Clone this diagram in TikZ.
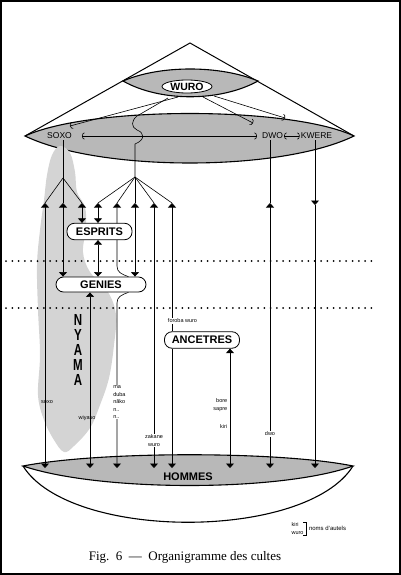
\documentclass[tikz,border=0pt]{standalone}
\usepackage{fontspec}
\setmainfont{Liberation Serif}
\setsansfont{Liberation Sans}
\usepackage{graphicx}
\usetikzlibrary{arrows.meta,positioning,shapes.geometric,calc,backgrounds}
\definecolor{lensgrey}{RGB}{184,184,184}
\definecolor{cloudgrey}{RGB}{212,212,212}

\begin{document}
\begin{tikzpicture}[x=1pt, y=-1pt,
    >={Triangle[width=8pt, length=4.5pt]},
    cult/.style={rectangle, draw, thick, fill=white, rounded corners=7.5pt,
        minimum height=16.5pt, inner sep=2pt,
        font=\sffamily\bfseries\fontsize{11}{11}\selectfont},
    power/.style={font=\sffamily\fontsize{8.5}{9}\selectfont, inner sep=1pt},
    altar/.style={font=\sffamily\fontsize{5.5}{7.2}\selectfont, inner sep=0.6pt, align=center},
    nyama/.style={font=\sffamily\bfseries\fontsize{16}{16}\selectfont, inner sep=0pt},
    link/.style={line width=0.6pt},
    twoway/.style={link, <->},
    oneway/.style={link, ->},
    barb/.style={link, -{Arc Barb[width=7pt, length=2.5pt]}},
    barbs/.style={link, {Arc Barb[width=7pt, length=2.5pt]}-{Arc Barb[width=7pt, length=2.5pt]}},
    lens/.style={draw, line width=1.1pt, fill=lensgrey},
    dotrow/.style={line width=2pt, line cap=round, dash pattern=on 0pt off 6.3pt}
]
    \useasboundingbox (0,0) rectangle (401,575);
    \draw[line width=1.5pt] (0.8,0.8) rectangle (400.2,574.2);

    % outline of the world
    \coordinate (apex) at (190,43);
    \coordinate (sky-l) at (25,136);
    \coordinate (sky-r) at (354,136);
    \coordinate (wuro-l) at (123,81);
    \coordinate (wuro-r) at (258,81);
    \coordinate (men-l) at (23,466);
    \coordinate (men-r) at (353,466);

    % starts on the wuro lens and ends on the powers
    \coordinate (wuro-s1) at (178,97);
    \coordinate (wuro-s2) at (203,97);
    \coordinate (wuro-s3) at (214,96);
    \coordinate (wuro-s4) at (168,98);
    \coordinate (soxo-in) at (70,126);
    \coordinate (dwo-in) at (253,123);
    \coordinate (kwere-in) at (285,118);

    % junction level and altar level
    \foreach \n/\x in {a/45, b/63, c/82, d/98, e/117, f/135, g/154, h/172, i/270}
        \coordinate (up-\n) at (\x,203);
    \coordinate (up-j) at (315,205);
    \foreach \n/\x in {a/45, e/117, g/154, h/172, i/270, j/315, k/90, l/230}
        \coordinate (dn-\n) at (\x,468);
    \coordinate (soxo-fork) at (63,178);
    \coordinate (wuro-fork) at (135,177);

    % nodes
    \node[ellipse, draw, thick, fill=white, minimum width=50pt, minimum height=13pt,
        inner sep=0pt, font=\sffamily\bfseries\fontsize{10.5}{11}\selectfont] (wuro) at (187,86.5) {WURO};
    \node[power] (soxo) at (59.5,136) {SOXO};
    \node[power] (dwo) at (272.5,136) {DWO};
    \node[power] (kwere) at (316.5,136) {KWERE};
    \node[cult, minimum width=65pt] (esprits) at (99.5,231.5) {ESPRITS};
    \node[cult, minimum width=90pt, minimum height=15pt] (genies) at (101,284.5) {GENIES};
    \node[cult, minimum width=75pt] (ancetres) at (202,340) {ANCETRES};
    \node[font=\sffamily\bfseries\fontsize{11}{11}\selectfont] (hommes) at (188,477) {HOMMES};
    \foreach \ch [count=\k] in {N,Y,A,M,A}
        \node[nyama] (nyama-\k) at (78,305+15*\k) {\scalebox{0.72}[1]{\ch}};

    % altar names
    \node[altar] (soxo-alt) at (47,402) {soxo};
    \node[altar] (wiyaso) at (87,418) {wiyaso};
    \node[altar, fill=white, align=left, anchor=north west,
        font=\sffamily\fontsize{5.5}{7.5}\selectfont] (maduba) at (112.5,385) {ma\\duba\\nãko\\n..\\n..};
    \node[altar, fill=white] (zakane) at (154,440.5) {zakane\\wuro};
    \node[altar, fill=white] (foroba) at (182.5,321) {foroba wuro};
    \node[altar, align=right, anchor=east] (bore) at (228,405) {bore\\sapre};
    \node[altar, anchor=east] (kiri) at (228,426.5) {kiri};
    \node[altar, fill=white] (dwo-alt) at (270,434) {dwo};

    \begin{scope}[on background layer]
        \draw[line width=1pt] (sky-l) -- (apex) -- (sky-r);
        \path[lens] (sky-l) .. controls (90,106) and (290,106) .. (sky-r)
            .. controls (280,172) and (100,172) .. cycle;
        \path[lens] (wuro-l) .. controls (160,65) and (220,65) .. (wuro-r)
            .. controls (220,102) and (160,102) .. cycle;
        % nyama cloud
        \fill[cloudgrey] plot[smooth cycle, tension=0.6] coordinates {
            (60,146) (70,153) (75,172) (77,192) (85,207) (86,228) (83,252) (90,272)
            (108,292) (116,315) (114,345) (109,378) (100,405) (90,428) (74,446) (64,452)
            (54,440) (44,420) (38,395) (40,355) (38,310) (37,265) (40,230) (44,200)
            (47,175) (52,155)};
        \path[lens] (men-l) .. controls (100,451) and (280,451) .. (men-r)
            .. controls (280,492) and (100,492) .. cycle;
        \draw[line width=1.1pt] (men-l) .. controls (70,541) and (306,541) .. (men-r);

        % wuro and the powers
        \draw[barb] (wuro-s1) -- (soxo-in);
        \draw[barb] (wuro-s2) -- (dwo-in);
        \draw[barb] (wuro-s3) -- (kwere-in);
        \draw[barbs] ($(soxo.east)+(9,0)$) -- ($(dwo.west)+(-4,0)$);
        \draw[barbs] (dwo) -- (kwere);
        \draw[link] (wuro-s4) -- (137,116) .. controls (131,121) and (131,127) .. (137,130)
            .. controls (145,133) and (145,140) .. (135,144) -- (wuro-fork);

        % forks
        \draw[link] (soxo.south -| soxo-fork) -- (soxo-fork);
        \foreach \n in {a,b,c} \draw[link] (soxo-fork) -- (up-\n);
        \foreach \n in {d,e,f,g,h} \draw[link] (wuro-fork) -- (up-\n);

        % cults
        \draw[twoway] (up-a) -- (dn-a);
        \draw[twoway] (up-b) -- (up-b |- genies.north);
        \draw[twoway] (up-c) -- (up-c |- esprits.north);
        \draw[twoway] (up-d) -- (up-d |- esprits.north);
        \draw[twoway] (up-d |- esprits.south) -- (up-d |- genies.north);
        \draw[link, <-] (up-e) -- (117,266) .. controls (117,272) and (121,274)
            .. ($(genies.north east)+(-18,0)$);
        \draw[oneway] ($(genies.south east)+(-18,0)$) .. controls (121,295) and (117,297)
            .. (117,303) -- (dn-e);
        \draw[twoway] (up-f) -- (up-f |- genies.north);
        \draw[twoway] (up-g) -- (dn-g);
        \draw[link, <-] (up-h) -- (up-h |- ancetres.north);
        \draw[oneway] (ancetres.south -| up-h) -- (dn-h);
        \draw[twoway] (dn-k) -- (dn-k |- genies.south);
        \draw[twoway] (dn-l) -- (dn-l |- ancetres.south);
        \draw[link] (dwo.south -| up-i) -- (up-i);
        \draw[twoway] (up-i) -- (dn-i);
        \draw[oneway] (kwere.south -| up-j) -- (up-j);
        \draw[oneway] (up-j) -- (dn-j);
    \end{scope}

    % levels
    \draw[dotrow] (6,261) -- (376,261);
    \draw[dotrow] (6,308) -- (376,308);

    % legend
    \node[altar, align=left] (legend-names) at (297.5,528.5) {kiri\\wuro};
    \draw[link] ($(legend-names.north east)+(-1,0)$) -| ($(legend-names.south east)+(2,0)$) -- ++(-3,0);
    \node[altar, anchor=west, font=\sffamily\fontsize{6}{7}\selectfont] (noms) at ($(legend-names.east)+(4,0)$) {noms d'autels};

    \node[font=\fontsize{13}{15}\selectfont] (caption) at (185,557) {Fig.\ \ 6\ \ ---\ \ Organigramme des cultes};
\end{tikzpicture}
\end{document}
